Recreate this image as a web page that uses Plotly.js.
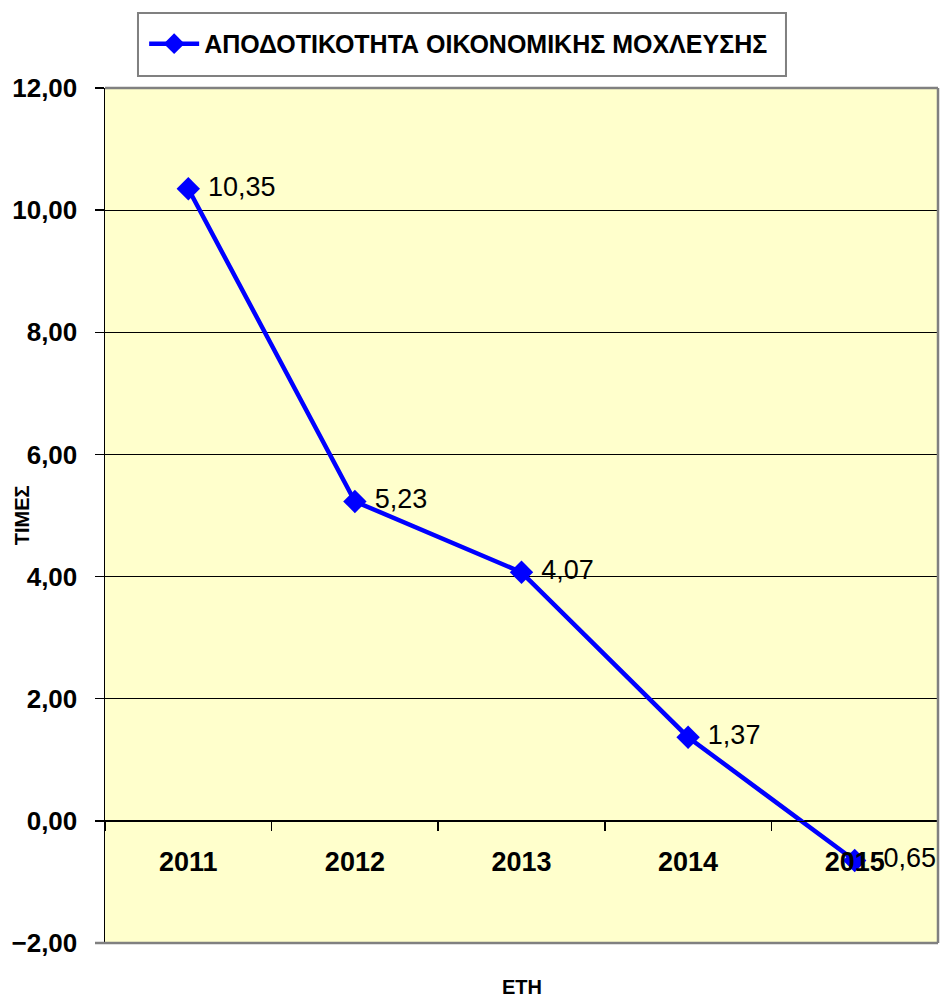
<!DOCTYPE html>
<html>
<head>
<meta charset="utf-8">
<script src="https://cdn.plot.ly/plotly-3.0.1.min.js"></script>
<style>html,body{margin:0;padding:0;background:#fff;}#chart{width:942px;height:997px;}</style>
</head>
<body>
<div id="chart"></div>
<script>
const years = ['2011', '2012', '2013', '2014', '2015'];
const values = [10.35, 5.23, 4.07, 1.37, -0.65];
const seriesName = 'ΑΠΟΔΟΤΙΚΟΤΗΤΑ ΟΙΚΟΝΟΜΙΚΗΣ ΜΟΧΛΕΥΣΗΣ';
const yTitle = 'ΤΙΜΕΣ';
const xTitle = 'ΕΤΗ';

const FONT = 'Arial, "Liberation Sans", sans-serif';
const labels = values.map(v => ' ' + v.toFixed(2).replace('.', ','));

const trace = {
  x: years, y: values, type: 'scatter', mode: 'lines+markers+text',
  name: seriesName,
  line: {color: '#0000FF', width: 4.5},
  marker: {symbol: 'diamond', size: 18, color: '#0000FF'},
  text: labels, textposition: 'middle right',
  textfont: {family: FONT, size: 27, color: '#000'},
  cliponaxis: false,
  hoverinfo: 'x+y'
};

const layout = {
  width: 942, height: 997,
  margin: {l: 105, r: 4, t: 88, b: 54, pad: 0},
  paper_bgcolor: '#FFFFFF', plot_bgcolor: '#FFFFCC',
  separators: ',.',
  font: {family: FONT, color: '#000'},
  showlegend: true,
  legend: {x: 0.047, y: 1.0515, xanchor: 'left', yanchor: 'middle',
    bgcolor: 'rgba(0,0,0,0)', borderwidth: 0, itemwidth: 50,
    font: {family: FONT, size: 25, weight: 'bold', color: '#000'}},
  xaxis: {type: 'category', range: [-0.5, 4.5], anchor: 'free', position: 2/14,
    showline: true, linecolor: '#000', linewidth: 1.5, showgrid: false, zeroline: false,
    ticks: 'outside', tickson: 'boundaries', ticklen: 9, tickcolor: '#000', tickwidth: 1.5,
    ticklabelstandoff: 16,
    tickfont: {family: FONT, size: 27, weight: 'bold', color: '#000'}},
  yaxis: {range: [-2, 12], dtick: 2, tick0: 0, tickformat: '.2f',
    showline: true, linecolor: '#000', linewidth: 1.5, showgrid: true, gridcolor: '#000', gridwidth: 1,
    zeroline: false, ticks: 'outside', ticklen: 9, tickcolor: '#000', tickwidth: 1.5,
    ticklabelstandoff: 12,
    tickfont: {family: FONT, size: 26, weight: 'bold', color: '#000'}},
  shapes: [
    {type: 'rect', xref: 'paper', yref: 'paper', x0: 0.0396, x1: 0.8175, y0: 1.014, y1: 1.0877,
      line: {color: '#808080', width: 2}, fillcolor: 'rgba(0,0,0,0)'},
    {type: 'line', xref: 'paper', yref: 'paper', x0: 0, x1: 1, y0: 1, y1: 1, line: {color: '#808080', width: 2.5}, layer: 'above'},
    {type: 'line', xref: 'paper', yref: 'paper', x0: 1, x1: 1, y0: 0, y1: 1, line: {color: '#808080', width: 2.5}, layer: 'above'},
    {type: 'line', xref: 'paper', yref: 'paper', x0: -0.012, x1: 1, y0: 0, y1: 0, line: {color: '#808080', width: 2.5}, layer: 'above'}
  ],
  annotations: [
    {text: yTitle, xref: 'paper', yref: 'paper', x: -0.1, y: 0.5, xanchor: 'center', yanchor: 'middle',
      textangle: -90, showarrow: false, font: {family: FONT, size: 20, weight: 'bold', color: '#000'}},
    {text: xTitle, xref: 'paper', yref: 'paper', x: 0.5, y: -0.052, xanchor: 'center', yanchor: 'middle',
      showarrow: false, font: {family: FONT, size: 20, weight: 'bold', color: '#000'}}
  ]
};

Plotly.newPlot('chart', [trace], layout, {displayModeBar: false, staticPlot: true});
</script>
</body>
</html>
